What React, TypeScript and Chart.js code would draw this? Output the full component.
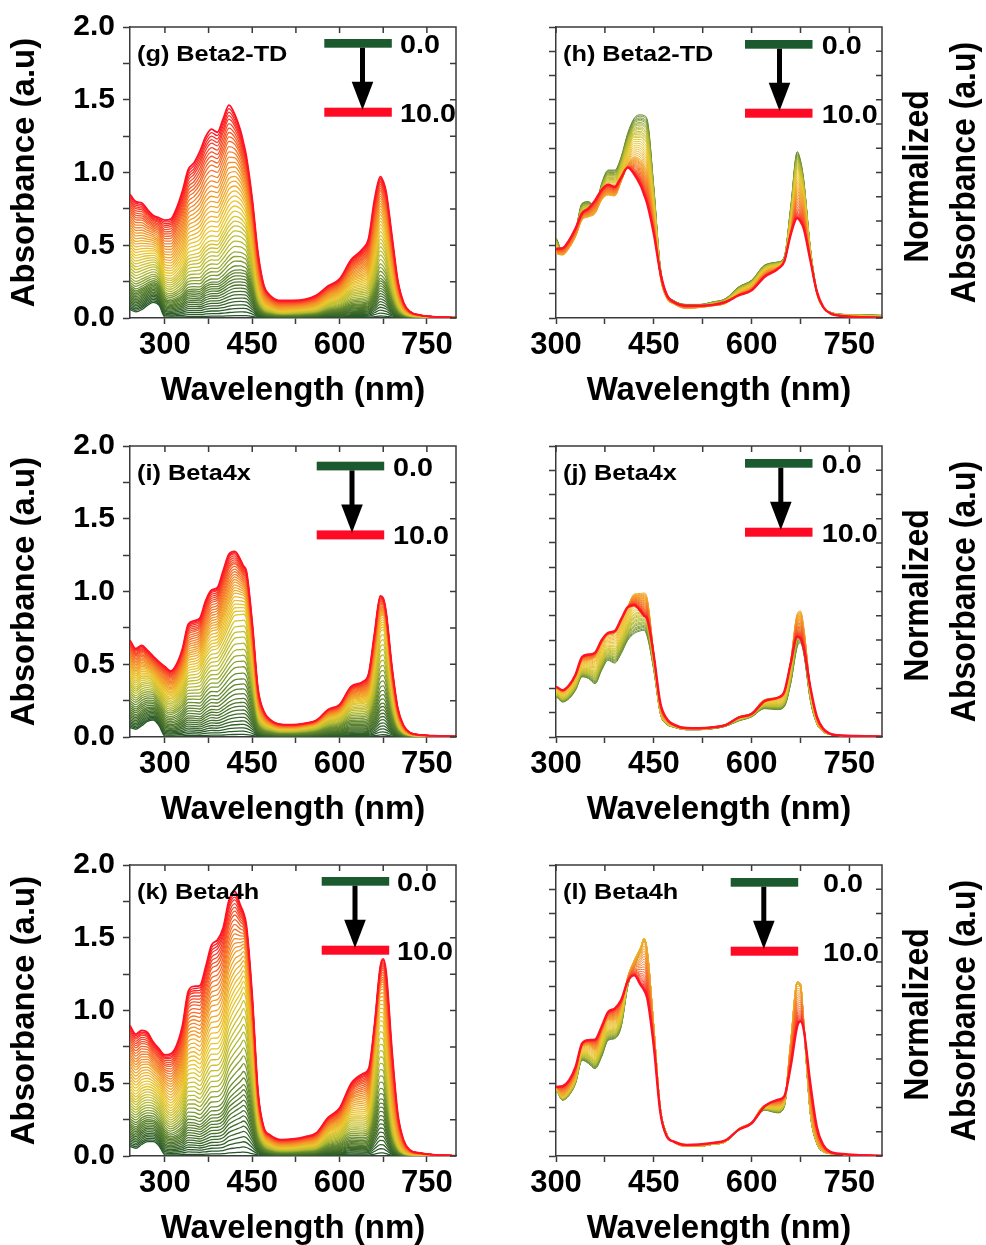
import React, { useEffect, useRef } from "react";
import { Chart, registerables } from "chart.js";

Chart.register(...registerables);

// ---------------- data ----------------
const wavelengthNm = [240, 250, 260, 270, 280, 290, 300, 310, 320, 330, 340, 350, 360, 370, 380, 390, 400, 410, 420, 430, 435, 440, 450, 460, 470, 480, 500, 520, 540, 560, 580, 600, 620, 640, 650, 660, 670, 675, 680, 690, 700, 710, 720, 740, 760, 800];

// normalized spectra (start = 0.0, mid, end = 10.0) for Beta2-TD
const beta2TdStart = [0.38, 0.35, 0.36, 0.35, 0.35, 0.34, 0.33, 0.273, 0.307, 0.362, 0.473, 0.48, 0.459, 0.555, 0.61, 0.61, 0.665, 0.762, 0.824, 0.838, 0.835, 0.817, 0.541, 0.211, 0.1, 0.073, 0.056, 0.056, 0.066, 0.08, 0.128, 0.156, 0.218, 0.231, 0.252, 0.459, 0.686, 0.65, 0.569, 0.293, 0.114, 0.045, 0.025, 0.015, 0.014, 0.011];
const beta2TdMid = [0.36, 0.34, 0.335, 0.315, 0.3, 0.29, 0.266, 0.26, 0.287, 0.335, 0.404, 0.417, 0.431, 0.486, 0.507, 0.503, 0.562, 0.631, 0.665, 0.652, 0.63, 0.597, 0.417, 0.169, 0.08, 0.059, 0.039, 0.043, 0.05, 0.06, 0.1, 0.128, 0.19, 0.21, 0.231, 0.362, 0.541, 0.52, 0.473, 0.252, 0.1, 0.04, 0.02, 0.01, 0.006, 0.003];
const beta2TdEnd = [0.339, 0.324, 0.314, 0.282, 0.256, 0.258, 0.285, 0.288, 0.32, 0.37, 0.432, 0.452, 0.485, 0.528, 0.55, 0.541, 0.58, 0.62, 0.593, 0.545, 0.51, 0.47, 0.347, 0.188, 0.095, 0.067, 0.051, 0.051, 0.054, 0.066, 0.093, 0.114, 0.17, 0.202, 0.233, 0.345, 0.412, 0.398, 0.368, 0.24, 0.11, 0.045, 0.02, 0.008, 0.004, 0.001];
const beta2TdBaseline = [0.05, 0.035, 0.05, 0.08, 0.1, 0.08];
const beta2TdAmp = [0.02, 0.05, 0.08, 0.11, 0.14, 0.17, 0.2, 0.23, 0.26, 0.29, 0.32, 0.35, 0.38, 0.41, 0.44, 0.48, 0.53, 0.58, 0.63, 0.69, 0.75, 0.81, 0.87, 0.93, 0.99, 1.05, 1.11, 1.17, 1.23, 1.29, 1.35, 1.41, 1.47, 1.53, 1.59, 1.65, 1.71, 1.77, 1.83, 1.89, 1.95, 2.0, 2.05, 2.1, 2.15, 2.2, 2.24, 2.28, 2.32, 2.36];

// Beta4x
const beta4xStart = [0.2, 0.185, 0.19, 0.18, 0.17, 0.165, 0.165, 0.144, 0.158, 0.193, 0.248, 0.241, 0.22, 0.275, 0.316, 0.305, 0.344, 0.399, 0.427, 0.438, 0.44, 0.413, 0.275, 0.096, 0.052, 0.041, 0.03, 0.03, 0.034, 0.044, 0.066, 0.083, 0.117, 0.113, 0.124, 0.22, 0.372, 0.388, 0.344, 0.152, 0.055, 0.021, 0.011, 0.006, 0.004, 0.002];
const beta4xMid = [0.25, 0.23, 0.235, 0.215, 0.195, 0.19, 0.2, 0.186, 0.206, 0.248, 0.31, 0.316, 0.33, 0.385, 0.42, 0.427, 0.475, 0.537, 0.589, 0.592, 0.594, 0.571, 0.344, 0.117, 0.062, 0.048, 0.034, 0.034, 0.041, 0.052, 0.083, 0.099, 0.154, 0.162, 0.179, 0.316, 0.509, 0.52, 0.454, 0.206, 0.069, 0.025, 0.011, 0.005, 0.003, 0.002];
const beta4xEnd = [0.259, 0.239, 0.238, 0.211, 0.189, 0.19, 0.206, 0.193, 0.213, 0.258, 0.33, 0.34, 0.348, 0.399, 0.43, 0.437, 0.486, 0.535, 0.543, 0.518, 0.5, 0.485, 0.335, 0.14, 0.075, 0.052, 0.037, 0.036, 0.04, 0.049, 0.08, 0.095, 0.148, 0.162, 0.186, 0.303, 0.413, 0.406, 0.365, 0.206, 0.085, 0.034, 0.014, 0.006, 0.004, 0.002];
const beta4xBaseline = [0.057, 0.046, 0.07, 0.1, 0.11, 0.07];
const beta4xAmp = [0.04, 0.09, 0.14, 0.19, 0.24, 0.29, 0.34, 0.39, 0.44, 0.49, 0.54, 0.6, 0.66, 0.72, 0.78, 0.85, 0.92, 0.98, 1.04, 1.1, 1.16, 1.22, 1.27, 1.32, 1.37, 1.42, 1.47, 1.52, 1.57, 1.62, 1.67, 1.72, 1.76, 1.8, 1.84, 1.88, 1.92, 1.96, 2.0, 2.04, 2.08, 2.12, 2.16, 2.19, 2.22, 2.25, 2.28, 2.31, 2.33, 2.35];

// Beta4h
const beta4hStart = [0.3, 0.28, 0.29, 0.285, 0.28, 0.275, 0.271, 0.23, 0.25, 0.299, 0.395, 0.381, 0.36, 0.409, 0.477, 0.484, 0.533, 0.698, 0.78, 0.849, 0.89, 0.835, 0.533, 0.202, 0.092, 0.058, 0.04, 0.04, 0.048, 0.058, 0.106, 0.134, 0.189, 0.178, 0.202, 0.45, 0.711, 0.698, 0.533, 0.175, 0.051, 0.017, 0.01, 0.006, 0.004, 0.001];
const beta4hMid = [0.31, 0.29, 0.3, 0.295, 0.285, 0.28, 0.278, 0.25, 0.278, 0.333, 0.45, 0.457, 0.436, 0.505, 0.56, 0.56, 0.615, 0.739, 0.808, 0.863, 0.897, 0.849, 0.533, 0.189, 0.085, 0.058, 0.04, 0.042, 0.05, 0.06, 0.113, 0.14, 0.209, 0.209, 0.23, 0.478, 0.718, 0.711, 0.56, 0.202, 0.065, 0.02, 0.01, 0.006, 0.004, 0.001];
const beta4hEnd = [0.344, 0.325, 0.325, 0.311, 0.284, 0.277, 0.285, 0.288, 0.312, 0.367, 0.464, 0.478, 0.48, 0.533, 0.594, 0.608, 0.643, 0.72, 0.745, 0.705, 0.685, 0.65, 0.452, 0.18, 0.08, 0.06, 0.046, 0.048, 0.054, 0.065, 0.108, 0.135, 0.205, 0.232, 0.246, 0.37, 0.535, 0.555, 0.52, 0.3, 0.12, 0.045, 0.018, 0.008, 0.004, 0.001];
const beta4hBaseline = [0.057, 0.045, 0.07, 0.09, 0.09, 0.06];
const beta4hAmp = [0.03, 0.07, 0.11, 0.15, 0.19, 0.23, 0.27, 0.31, 0.35, 0.39, 0.43, 0.47, 0.51, 0.55, 0.6, 0.65, 0.71, 0.77, 0.83, 0.89, 0.95, 1.01, 1.07, 1.13, 1.19, 1.25, 1.31, 1.37, 1.43, 1.49, 1.55, 1.61, 1.67, 1.73, 1.79, 1.84, 1.89, 1.94, 1.99, 2.04, 2.09, 2.14, 2.19, 2.23, 2.27, 2.31, 2.35, 2.38, 2.41, 2.44];

// progression of each recorded spectrum from the 0.0 shape (0) through the mid shape (1) to the 10.0 shape (2)
const timeMix = [0, 0.03, 0.07, 0.1, 0.13, 0.17, 0.2, 0.23, 0.27, 0.3, 0.33, 0.37, 0.4, 0.43, 0.47, 0.5, 0.55, 0.6, 0.65, 0.7, 0.75, 0.8, 0.85, 0.9, 0.95, 1.0, 1.05, 1.1, 1.15, 1.2, 1.25, 1.3, 1.35, 1.4, 1.45, 1.5, 1.55, 1.6, 1.65, 1.7, 1.74, 1.78, 1.82, 1.85, 1.88, 1.91, 1.94, 1.96, 1.98, 2.0];

const wavelengthTicks = [300, 375, 450, 525, 600, 675, 750];
const wavelengthTickLabels = [300, 450, 600, 750];
const absTicks = [0, 0.25, 0.5, 0.75, 1.0, 1.25, 1.5, 1.75, 2.0];
const absTickLabels = [0, 0.5, 1.0, 1.5, 2.0];
const normTicks = [0, 0.1, 0.2, 0.3, 0.4, 0.5, 0.6, 0.7, 0.8, 0.9, 1.0, 1.1, 1.2];
const legendLabels = ["0.0", "10.0"];

// ---------------- styling ----------------
const FONT = "'Liberation Sans', Arial, Helvetica, sans-serif";
const AXIS = "#3a3a3a";
const CANVAS_H = 415;

const STOPS: [number, number[]][] = [
  [0, [38, 86, 40]],
  [0.3, [104, 140, 48]],
  [0.4, [178, 186, 50]],
  [0.55, [234, 200, 46]],
  [0.72, [243, 150, 40]],
  [0.88, [248, 80, 40]],
  [1, [255, 18, 36]],
];

function curveColor(f: number) {
  for (let k = 1; k < STOPS.length; k++) {
    const [f1, c1] = STOPS[k];
    const [f0, c0] = STOPS[k - 1];
    if (f <= f1) {
      const t = (f - f0) / (f1 - f0);
      const c = c0.map((v, n) => Math.round(v + (c1[n] - v) * t));
      return `rgb(${c[0]},${c[1]},${c[2]})`;
    }
  }
  return "rgb(255,18,36)";
}

function mixShape(start: number[], mid: number[], end: number[], j: number, m: number) {
  if (m <= 1) return start[j] + (mid[j] - start[j]) * m;
  return mid[j] + (end[j] - mid[j]) * (m - 1);
}

type Legend = { barX: number; barTop: number; arrowX: number; textX: number };
type Spec = {
  key: string;
  kind: "abs" | "norm";
  col: number;
  row: number;
  tag: string;
  start: number[];
  mid: number[];
  end: number[];
  amp: number[];
  base: number[];
  legend: Legend;
};

const PANELS: Spec[] = [
  { key: "g", kind: "abs", col: 0, row: 0, tag: "(g) Beta2-TD", start: beta2TdStart, mid: beta2TdMid, end: beta2TdEnd, amp: beta2TdAmp, base: beta2TdBaseline, legend: { barX: 194.3, barTop: 12, arrowX: 232.5, textX: 270 } },
  { key: "h", kind: "norm", col: 1, row: 0, tag: "(h) Beta2-TD", start: beta2TdStart, mid: beta2TdMid, end: beta2TdEnd, amp: beta2TdAmp, base: beta2TdBaseline, legend: { barX: 189, barTop: 13, arrowX: 223.5, textX: 265.7 } },
  { key: "i", kind: "abs", col: 0, row: 1, tag: "(i) Beta4x", start: beta4xStart, mid: beta4xMid, end: beta4xEnd, amp: beta4xAmp, base: beta4xBaseline, legend: { barX: 186.7, barTop: 15.7, arrowX: 222, textX: 263 } },
  { key: "j", kind: "norm", col: 1, row: 1, tag: "(j) Beta4x", start: beta4xStart, mid: beta4xMid, end: beta4xEnd, amp: beta4xAmp, base: beta4xBaseline, legend: { barX: 189, barTop: 13, arrowX: 224.8, textX: 265.7 } },
  { key: "k", kind: "abs", col: 0, row: 2, tag: "(k) Beta4h", start: beta4hStart, mid: beta4hMid, end: beta4hEnd, amp: beta4hAmp, base: beta4hBaseline, legend: { barX: 191.7, barTop: 12, arrowX: 225, textX: 267 } },
  { key: "l", kind: "norm", col: 1, row: 2, tag: "(l) Beta4h", start: beta4hStart, mid: beta4hMid, end: beta4hEnd, amp: beta4hAmp, base: beta4hBaseline, legend: { barX: 174.7, barTop: 13, arrowX: 207.8, textX: 267 } },
];

function drawText(ctx: CanvasRenderingContext2D, text: string, x: number, y: number, size: number, sx: number) {
  ctx.save();
  ctx.translate(x, y);
  ctx.scale(sx, 1);
  ctx.font = `bold ${size}px ${FONT}`;
  ctx.textAlign = "left";
  ctx.textBaseline = "alphabetic";
  ctx.fillStyle = "#000";
  ctx.fillText(text, 0, 0);
  ctx.restore();
}

function drawRotated(ctx: CanvasRenderingContext2D, text: string, cx: number, cy: number, size: number, thick: number) {
  ctx.save();
  ctx.translate(cx, cy);
  ctx.rotate(-Math.PI / 2);
  ctx.scale(1, thick);
  ctx.font = `bold ${size}px ${FONT}`;
  ctx.textAlign = "center";
  ctx.textBaseline = "middle";
  ctx.fillStyle = "#000";
  ctx.fillText(text, 0, 0);
  ctx.restore();
}

function decorPlugin(spec: Spec) {
  return {
    id: "decor_" + spec.key,
    afterDraw(chart: any) {
      const { ctx, chartArea: ca, scales } = chart;
      const xs = scales.x;
      const ys = scales.y;
      ctx.save();
      // top + right frame with inward ticks
      ctx.strokeStyle = AXIS;
      ctx.lineWidth = 1.5;
      ctx.beginPath();
      ctx.moveTo(ca.left, ca.top);
      ctx.lineTo(ca.right, ca.top);
      ctx.lineTo(ca.right, ca.bottom);
      xs.ticks.forEach((t: any) => {
        const p = xs.getPixelForValue(t.value);
        ctx.moveTo(p, ca.top);
        ctx.lineTo(p, ca.top + 6);
      });
      ys.ticks.forEach((t: any) => {
        const p = ys.getPixelForValue(t.value);
        ctx.moveTo(ca.right, p);
        ctx.lineTo(ca.right - 6, p);
      });
      ctx.stroke();

      // panel tag
      drawText(ctx, spec.tag, ca.left + 7, ca.top + 33.5, 22, 1.15);

      // legend bars + arrow
      const L = spec.legend;
      const bx = ca.left + L.barX;
      const by = ca.top + L.barTop;
      ctx.fillStyle = "#1b5a2e";
      ctx.fillRect(bx, by, 67.5, 8.7);
      ctx.fillStyle = "#ff0a24";
      ctx.fillRect(bx, by + 68.7, 67.5, 9);
      const ax = ca.left + L.arrowX;
      ctx.fillStyle = "#000";
      ctx.fillRect(ax - 2.5, by + 8.7, 5, 35);
      ctx.beginPath();
      ctx.moveTo(ax - 10.8, by + 42.7);
      ctx.lineTo(ax + 10.8, by + 42.7);
      ctx.lineTo(ax, by + 71);
      ctx.closePath();
      ctx.fill();
      drawText(ctx, legendLabels[0], ca.left + L.textX, by + 14, 25, 1.15);
      drawText(ctx, legendLabels[1], ca.left + L.textX, by + 82.7, 25, 1.15);

      if (spec.kind === "norm") {
        const cy = (ca.top + ca.bottom) / 2;
        drawRotated(ctx, "Normalized", 428.5, cy + 4, 32, 1.12);
        drawRotated(ctx, "Absorbance (a.u)", 475, cy, 32, 1.12);
      }
      ctx.restore();
    },
  };
}

function buildConfig(spec: Spec): any {
  const isAbs = spec.kind === "abs";
  const n = timeMix.length;
  const datasets: any[] = [];
  for (let i = 0; i < n; i++) {
    const m = timeMix[i];
    const pts: { x: number; y: number }[] = [];
    wavelengthNm.forEach((w, j) => {
      const s = mixShape(spec.start, spec.mid, spec.end, j, m);
      if (isAbs) pts.push({ x: w, y: spec.amp[i] * s + (spec.base[j] ?? 0) });
      else if (w >= 290) pts.push({ x: w, y: s });
    });
    const last = i === n - 1;
    const f = i / (n - 1);
    datasets.push({
      data: pts,
      borderColor: curveColor(isAbs ? f : 0.28 + 0.72 * f),
      borderWidth: last ? (isAbs ? 1.8 : 2.4) : isAbs ? 1.3 : 1,
      pointRadius: 0,
      fill: false,
      cubicInterpolationMode: "monotone",
      order: n - 1 - i,
    });
  }

  const tickFont = (size: number) => ({ family: FONT, size, weight: "bold" as const, lineHeight: 1.2 });
  const titleFont = { family: FONT, size: 33, weight: "bold" as const, lineHeight: 1 };

  return {
    type: "line",
    data: { datasets },
    options: {
      responsive: false,
      maintainAspectRatio: false,
      animation: false,
      parsing: true,
      layout: { padding: { left: 0, right: isAbs ? 34 : 104, top: 27, bottom: 0 } },
      plugins: { legend: { display: false }, tooltip: { enabled: false }, title: { display: false } },
      elements: { point: { radius: 0 }, line: { tension: 0 } },
      scales: {
        x: {
          type: "linear",
          min: isAbs ? 240 : 300,
          max: 800,
          afterBuildTicks: (s: any) => {
            s.ticks = wavelengthTicks.map((v) => ({ value: v }));
          },
          afterFit: (s: any) => {
            s.height = 97;
          },
          ticks: {
            autoSkip: false,
            maxRotation: 0,
            padding: 3,
            color: "#000",
            font: tickFont(31),
            callback: (v: number) => (wavelengthTickLabels.includes(v) ? String(v) : ""),
          },
          grid: { drawOnChartArea: false, drawTicks: true, tickLength: 6, tickColor: AXIS, tickWidth: 1.5 },
          border: { display: true, color: AXIS, width: 1.5 },
          title: { display: true, text: "Wavelength (nm)", color: "#000", font: titleFont, padding: { top: 0, bottom: 8 } },
        },
        y: {
          type: "linear",
          min: 0,
          max: isAbs ? 2 : 1.2,
          afterBuildTicks: (s: any) => {
            s.ticks = (isAbs ? absTicks : normTicks).map((v) => ({ value: v }));
          },
          afterFit: (s: any) => {
            s.width = isAbs ? 130 : 66;
          },
          ticks: {
            display: isAbs,
            autoSkip: false,
            padding: 8,
            color: "#000",
            font: tickFont(30),
            callback: (v: number) => (absTickLabels.includes(v) ? v.toFixed(1) : ""),
          },
          grid: { drawOnChartArea: false, drawTicks: true, tickLength: 7, tickColor: AXIS, tickWidth: 1.5 },
          border: { display: true, color: AXIS, width: 1.5 },
          title: { display: isAbs, text: "Absorbance (a.u)", color: "#000", font: titleFont, padding: { top: 8, bottom: 0 } },
        },
      },
    },
    plugins: [decorPlugin(spec)],
  };
}

function Panel({ spec }: { spec: Spec }) {
  const ref = useRef<HTMLCanvasElement | null>(null);
  const width = spec.col === 0 ? 490 : 496;
  const left = spec.col === 0 ? 0 : 490;
  const top = [0, 419, 838][spec.row];
  useEffect(() => {
    if (!ref.current) return;
    const chart = new Chart(ref.current, buildConfig(spec));
    return () => chart.destroy();
  }, [spec]);
  return (
    <canvas
      ref={ref}
      width={width}
      height={CANVAS_H}
      style={{ position: "absolute", left, top, width, height: CANVAS_H }}
    />
  );
}

export default function App() {
  return (
    <div
      style={{
        position: "absolute",
        left: 0,
        top: 0,
        width: 986,
        height: 1245,
        overflow: "hidden",
        background: "#fff",
      }}
    >
      {PANELS.map((p) => (
        <Panel key={p.key} spec={p} />
      ))}
    </div>
  );
}
